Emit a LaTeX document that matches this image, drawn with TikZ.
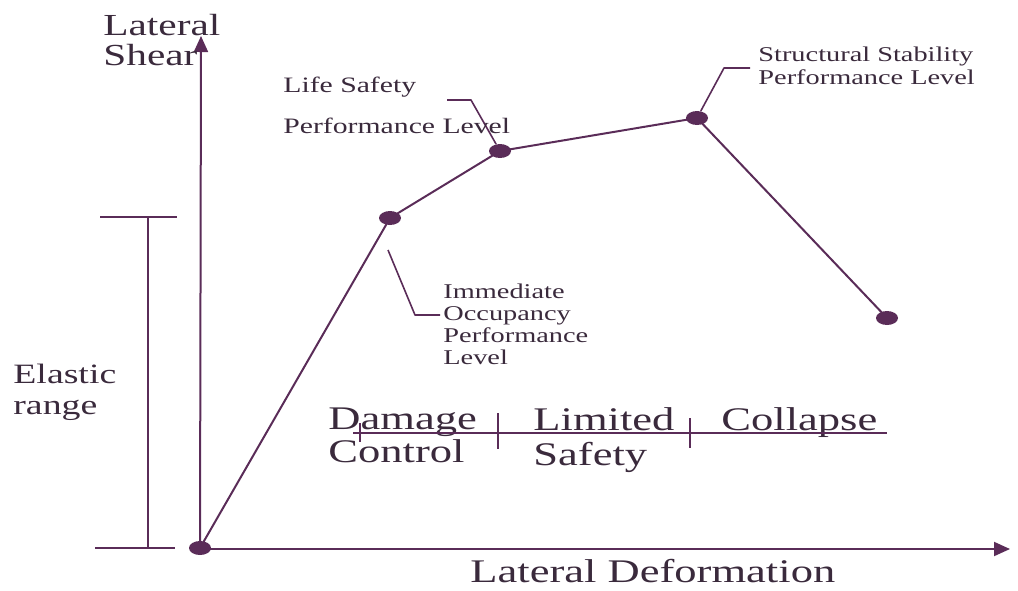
\documentclass[tikz,border=0pt]{standalone}
\usepackage{fontspec}
\setmainfont[FakeStretch=1.35]{Liberation Serif}
\usepackage{tikz}
\usetikzlibrary{arrows.meta,shapes.geometric}
\definecolor{ink}{HTML}{5A2C58}
\definecolor{txt}{HTML}{3A2A3C}
\tikzset{
  axis/.style={draw=ink, line width=1pt, -{Triangle[length=8pt,width=7pt]}},
  curve/.style={draw=ink, line width=1pt, line join=round},
  lead/.style={draw=ink, line width=0.8pt, line join=round},
  dot/.style={ellipse, fill=ink, inner sep=0pt, minimum width=11pt, minimum height=7pt},
  lab/.style={text=txt, inner sep=0pt, align=left, anchor=north west},
}

\begin{document}
\begin{tikzpicture}[x=0.5pt,y=-0.5pt]
  \useasboundingbox (0,0) rectangle (1018,590);

  % points on the capacity curve
  \coordinate (O)  at (200,548);
  \coordinate (IO) at (390,218);
  \coordinate (LS) at (500,151);
  \coordinate (SS) at (697,118);
  \coordinate (C)  at (887,318);
  \coordinate (ytip) at (201,36);
  \coordinate (xtip) at (1010,549);

  % axes
  \draw[axis] (O) -- (ytip);
  \draw[axis] (200,549) -- (xtip);

  % elastic range bracket
  \coordinate (elT) at (148,217);
  \coordinate (elB) at (148,548);
  \draw[curve] (100,217) -- (177,217) (95,548) -- (175,548);
  \draw[curve] (elT) -- (elB);

  \draw[curve] (O) -- (IO) -- (LS) -- (SS) -- (C);
  \foreach \p in {O,IO,LS,SS,C}
    \node[dot] (d\p) at (\p) {};

  % leaders
  \coordinate (lsA) at (447,100);
  \coordinate (lsB) at (471,100);
  \draw[lead] (lsA) -- (lsB) -- (dLS);
  \coordinate (ssA) at (724,68);
  \coordinate (ssB) at (750,68);
  \draw[lead] (dSS) -- (ssA) -- (ssB);
  \coordinate (ioA) at (388,250);
  \coordinate (ioB) at (415,315);
  \coordinate (ioC) at (440,315);
  \draw[lead] (ioA) -- (ioB) -- (ioC);

  % labels
  \node[lab, font=\fontsize{15.3}{15}\selectfont] (shear) at (103,14) {Lateral\\Shear};
  \node[lab, font=\fontsize{14}{15.5}\selectfont] (elastic) at (13,364) {Elastic\\range};
  \node[lab, font=\fontsize{11}{20.5}\selectfont] (lifes) at (283,77) {Life Safety\\Performance Level};
  \node[lab, font=\fontsize{10.5}{11.3}\selectfont] (struct) at (758,47) {Structural Stability\\Performance Level};
  \node[lab, font=\fontsize{10.5}{11}\selectfont] (immed) at (443,284) {Immediate\\Occupancy\\Performance\\Level};
  \node[lab, font=\fontsize{16.5}{16.5}\selectfont] (dmg) at (328,407) {Damage\\Control};
  \node[lab, font=\fontsize{16.5}{17.5}\selectfont] (lim) at (533,407) {Limited\\Safety};
  \node[lab, font=\fontsize{16.5}{17.5}\selectfont] (col) at (721,407) {Collapse};
  \node[text=txt, inner sep=0pt, anchor=base west, font=\fontsize{16.5}{17}\selectfont] (xlab) at (470,582) {Lateral Deformation};

  % range bar under the zone labels
  \coordinate (bL) at (353,433);
  \coordinate (bR) at (887,433);
  \draw[lead] (bL) -- (bR);
  \draw[lead] (360,423) -- (360,442) (498,413) -- (498,449) (690,418) -- (690,448);
\end{tikzpicture}
\end{document}
